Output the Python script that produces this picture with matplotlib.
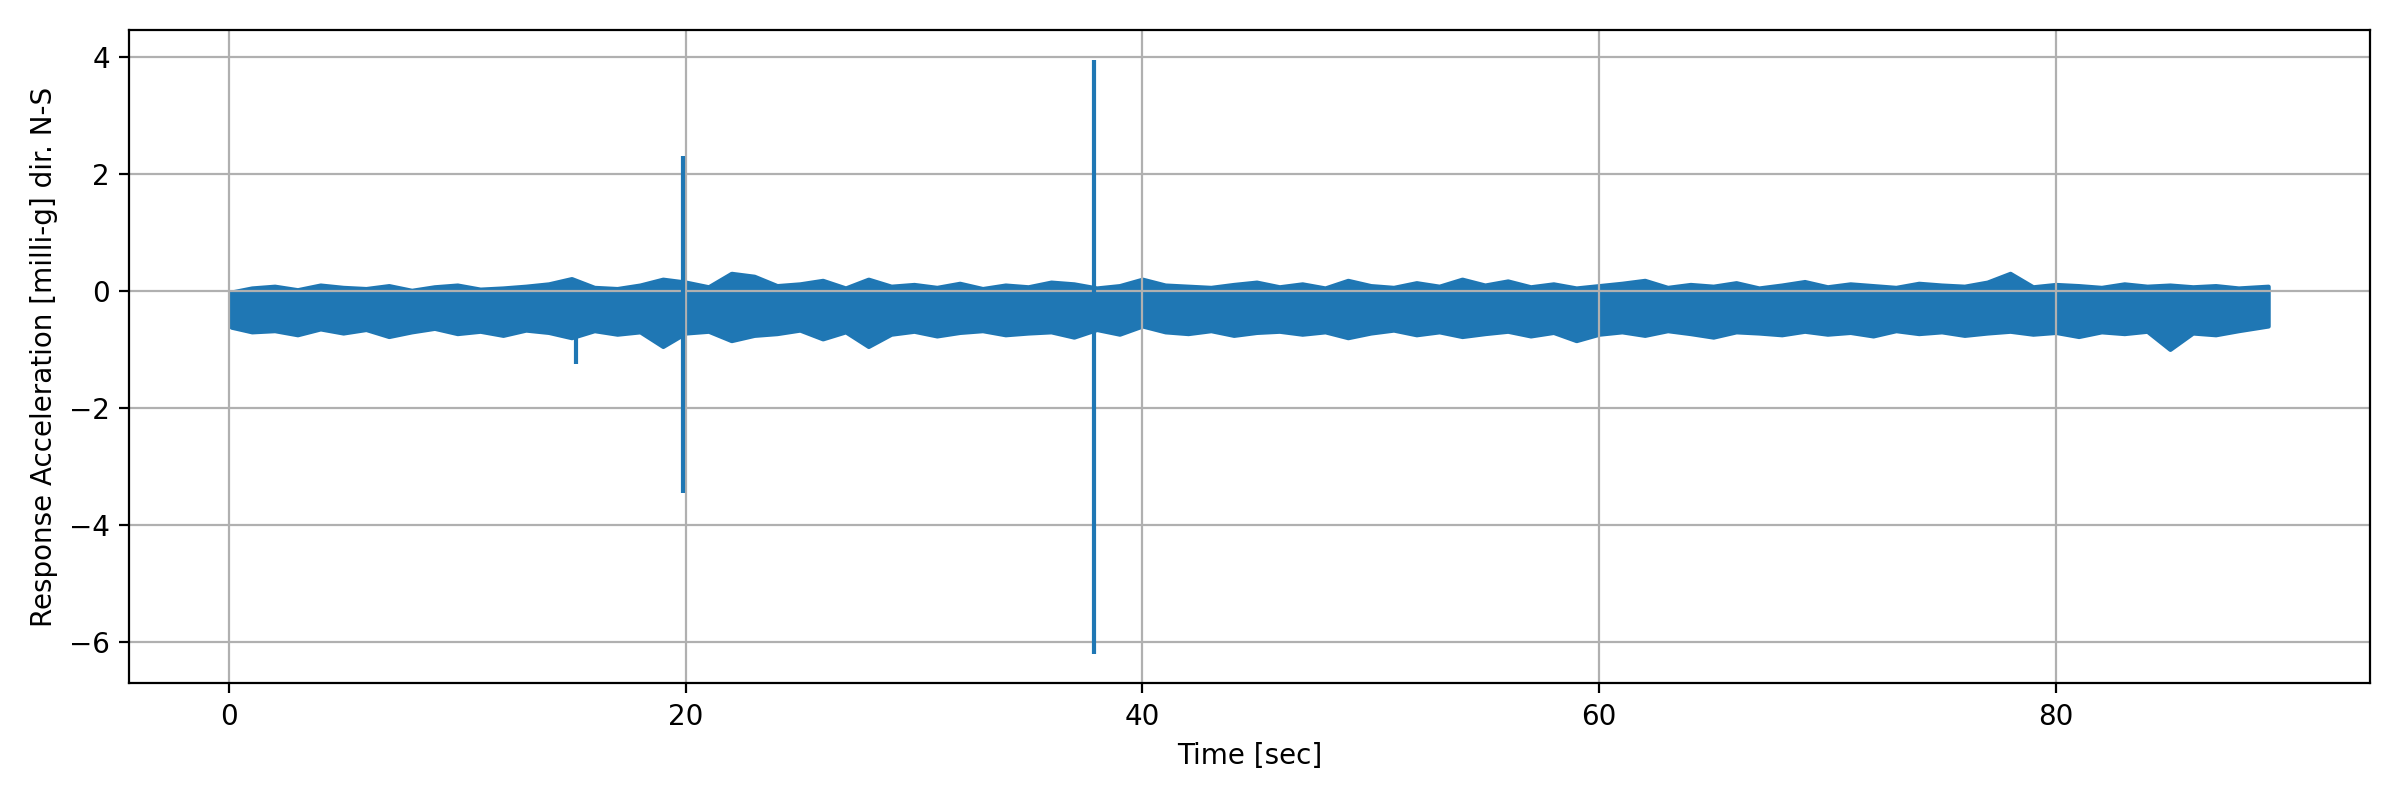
import numpy as np
import matplotlib
matplotlib.use("Agg")
import matplotlib.pyplot as plt

# envelope of the dense trace, one value per second (0 .. 89 s)
upper = [
    -0.02, 0.05, 0.08, 0.02, 0.10, 0.06, 0.04, 0.09, 0.01, 0.07,
    0.10, 0.03, 0.05, 0.08, 0.12, 0.21, 0.06, 0.04, 0.10, 0.20,
    0.15, 0.07, 0.30, 0.25, 0.09, 0.12, 0.18, 0.05, 0.20, 0.08,
    0.11, 0.06, 0.13, 0.04, 0.10, 0.07, 0.15, 0.12, 0.05, 0.09,
    0.20, 0.10, 0.08, 0.06, 0.11, 0.15, 0.07, 0.12, 0.05, 0.18,
    0.09, 0.06, 0.14, 0.08, 0.20, 0.10, 0.17, 0.07, 0.12, 0.05,
    0.09, 0.13, 0.18, 0.06, 0.11, 0.08, 0.14, 0.05, 0.10, 0.16,
    0.07, 0.12, 0.09, 0.06, 0.13, 0.10, 0.08, 0.15, 0.30, 0.07,
    0.11, 0.09, 0.06, 0.12, 0.08, 0.10, 0.07, 0.09, 0.05, 0.08,
]
lower = [
    -0.62, -0.70, -0.68, -0.75, -0.65, -0.72, -0.66, -0.78, -0.70, -0.64,
    -0.73, -0.69, -0.76, -0.67, -0.71, -0.80, -0.68, -0.74, -0.70, -0.95,
    -0.72, -0.69, -0.85, -0.76, -0.73, -0.67, -0.82, -0.70, -0.95, -0.74,
    -0.69, -0.77, -0.71, -0.68, -0.75, -0.72, -0.70, -0.79, -0.66, -0.74,
    -0.60, -0.70, -0.73, -0.68, -0.76, -0.71, -0.69, -0.74, -0.70, -0.80,
    -0.72, -0.67, -0.75, -0.70, -0.78, -0.73, -0.69, -0.77, -0.71, -0.85,
    -0.74, -0.70, -0.76, -0.68, -0.73, -0.79, -0.70, -0.72, -0.75, -0.69,
    -0.74, -0.71, -0.77, -0.68, -0.73, -0.70, -0.76, -0.72, -0.69, -0.74,
    -0.71, -0.78, -0.70, -0.73, -0.69, -1.00, -0.72, -0.75, -0.68, -0.60,
]
time = np.arange(len(upper), dtype=float)
time[0] = 0.1
time[-1] = 89.3

# isolated spikes: time and the min / max reached
spike_t = [15.2, 19.9, 37.9]
spike_lo = [-1.25, -3.45, -6.2]
spike_hi = [-0.3, 2.3, 3.95]

color = "#1f77b4"
fig, ax = plt.subplots(figsize=(12, 4), dpi=200)
ax.fill_between(time, lower, upper, color=color, lw=1.5, edgecolor=color)
ax.vlines(spike_t, spike_lo, spike_hi, color=color, lw=1.5)
ax.set_xlabel("Time [sec]")
ax.set_ylabel("Response Acceleration [milli-g] dir. N-S")
ax.set_yticks([-6, -4, -2, 0, 2, 4])
ax.grid(True)
fig.tight_layout()
fig.savefig("out.png")
